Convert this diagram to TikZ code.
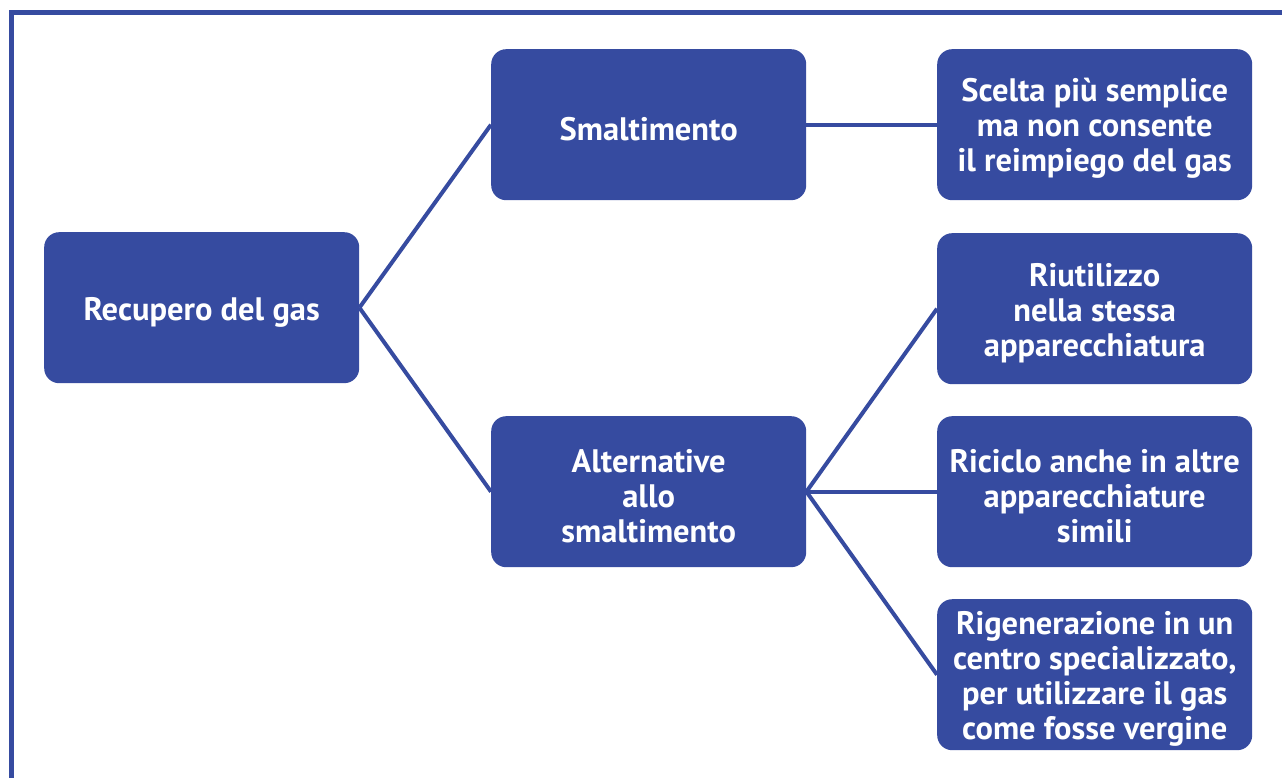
\documentclass[tikz,border=0pt]{standalone}
\usepackage{fontspec}
\setmainfont{PT Sans}
\definecolor{bl}{RGB}{54,75,160}
\begin{document}
\begin{tikzpicture}[x=1pt,y=-1pt,
  box/.style={fill=bl,rounded corners=15pt,minimum width=315pt,minimum height=151pt,
    text=white,align=center,inner sep=0pt,anchor=north west},
  lbl/.style={text=white,font=\fontsize{32.5}{35}\selectfont\bfseries,align=center,inner sep=0pt},
  conn/.style={draw=bl,line width=4pt}]
\useasboundingbox (0,0) rectangle (1282,778);
\draw[bl,line width=5pt] (11.5,778) -- (11.5,13) -- (1282,13);
\node[box] (rec) at (44,232) {};
\node[box] (sma) at (491,49) {};
\node[box] (alt) at (491,416) {};
\node[box] (b1) at (937,49) {};
\node[box] (b2) at (937,233) {};
\node[box] (b3) at (937,416) {};
\node[box] (b4) at (937,599) {};
\node[lbl] (trec) at ([yshift=-5pt]rec.center) {Recupero del gas};
\node[lbl] (tsma) at ([yshift=-4pt]sma.center) {Smaltimento};
\node[lbl] (talt) at ([yshift=-4pt]alt.center) {Alternative\\allo\\smaltimento};
\node[lbl] (tb1) at ([yshift=-3.5pt]b1.center) {Scelta più semplice\\ma non consente\\il reimpiego del gas};
\node[lbl] (tb2) at ([yshift=-4pt]b2.center) {Riutilizzo\\nella stessa\\apparecchiatura};
\node[lbl] (tb3) at ([yshift=-4pt]b3.center) {Riciclo anche in altre\\apparecchiature\\simili};
\node[lbl] (tb4) at ([yshift=-4pt]b4.center) {Rigenerazione in un\\centro specializzato,\\per utilizzare il gas\\come fosse vergine};
\draw[conn] (rec.east) -- (sma.west);
\draw[conn] (rec.east) -- (alt.west);
\draw[conn] (sma.east) -- (b1.west);
\draw[conn] (alt.east) -- (b2.west);
\draw[conn] (alt.east) -- (b3.west);
\draw[conn] (alt.east) -- (b4.west);
\end{tikzpicture}
\end{document}
